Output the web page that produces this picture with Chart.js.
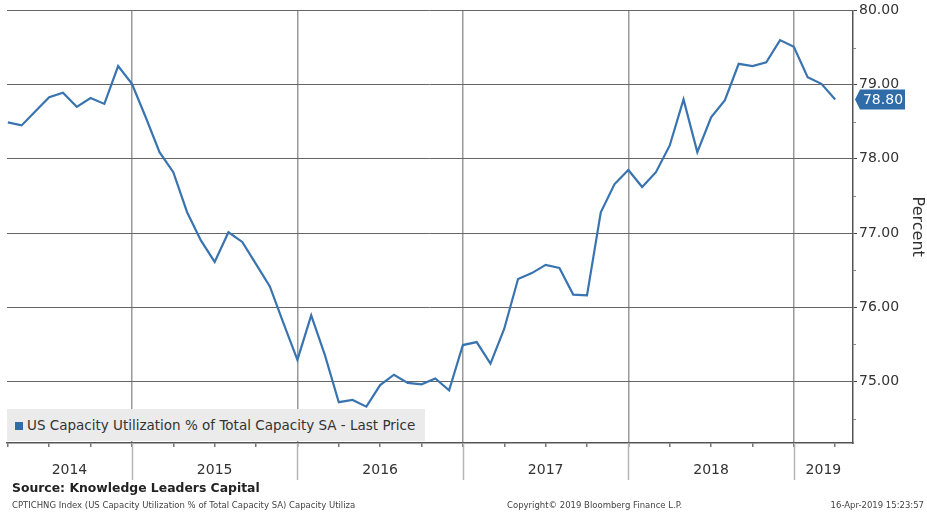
<!DOCTYPE html>
<html lang="en">
<head>
    <meta charset="UTF-8">
    <title>US Capacity Utilization</title>
    <script src="https://cdnjs.cloudflare.com/ajax/libs/Chart.js/4.4.1/chart.umd.min.js"></script>
    <style>
        body {
            margin: 0;
            background: #fff;
            font-family: 'DejaVu Sans', sans-serif;
        }
        .wrap {
            position: relative;
            width: 927px;
            height: 515px;
            overflow: hidden;
        }
        .legend {
            position: absolute;
            left: 7px;
            top: 409px;
            width: 418px;
            height: 32px;
            background: #ebebeb;
            color: #333;
            font-size: 13.5px;
            line-height: 32px;
            white-space: nowrap;
        }
        .legend i {
            display: inline-block;
            width: 8px;
            height: 8px;
            background: #2f6ca8;
            margin: 0 4px 0 8px;
        }
        .source {
            position: absolute;
            left: 12px;
            top: 480px;
            font-weight: bold;
            font-size: 12.4px;
            color: #222;
        }
        .small {
            position: absolute;
            top: 500px;
            font-size: 8.5px;
            color: #444;
            white-space: nowrap;
        }
    </style>
</head>
<body>
    <div class="wrap">
        <canvas id="chart" width="927" height="515"></canvas>
        <div class="legend"><i></i>US Capacity Utilization % of Total Capacity SA - Last Price</div>
        <div class="source">Source: Knowledge Leaders Capital</div>
        <div class="small" style="left:12px">CPTICHNG Index (US Capacity Utilization % of Total Capacity SA) Capacity Utiliza</div>
        <div class="small" style="left:507px">Copyright© 2019 Bloomberg Finance L.P.</div>
        <div class="small" style="right:3px">16-Apr-2019 15:23:57</div>
    </div>

    <script>
        // months counted from Jan 2014; a value for month m sits at the end of that month (m + 1)
        const firstMonth = 2; // Mar 2014
        const years = ['2014', '2015', '2016', '2017', '2018', '2019'];
        const yTicks = [75, 76, 77, 78, 79, 80];

        // monthly capacity utilization, Mar 2014 .. Mar 2019
        const capacityUtil = [
            78.49, 78.45, 78.64, 78.83, 78.89, 78.70, 78.82, 78.74, 79.25, 79.01,                // 2014
            78.56, 78.09, 77.82, 77.28, 76.90, 76.61, 77.01, 76.88, 76.58, 76.28, 75.78, 75.29,  // 2015
            75.89, 75.35, 74.72, 74.75, 74.66, 74.95, 75.09, 74.98, 74.96, 75.04, 74.88, 75.49,  // 2016
            75.53, 75.24, 75.71, 76.38, 76.46, 76.57, 76.53, 76.17, 76.16, 77.28, 77.66, 77.85,  // 2017
            77.62, 77.82, 78.18, 78.80, 78.09, 78.56, 78.79, 79.28, 79.25, 79.30, 79.60, 79.51,  // 2018
            79.10, 79.01, 78.80                                                                  // 2019
        ];

        const points = capacityUtil.map((v, i) => ({ x: firstMonth + i + 1, y: v }));
        const lastValue = capacityUtil[capacityUtil.length - 1];

        const lineColor = '#3a74b0';

        // year labels, year separators below the axis, minor y ticks, last price tag
        const decor = {
            id: 'decor',
            afterDraw(chart) {
                const ctx = chart.ctx;
                const xs = chart.scales.x;
                const ys = chart.scales.y;
                const area = chart.chartArea;

                ctx.save();
                // separators under the axis
                ctx.strokeStyle = '#b5b5b5';
                ctx.lineWidth = 1.5;
                for (let i = 1; i < years.length; i++) {
                    const px = Math.round(xs.getPixelForValue(i * 12)) + 0.5;
                    ctx.beginPath();
                    ctx.moveTo(px, area.bottom);
                    ctx.lineTo(px, area.bottom + 37);
                    ctx.stroke();
                }
                // year labels
                ctx.fillStyle = '#333';
                ctx.font = '14px "DejaVu Sans"';
                ctx.textAlign = 'center';
                ctx.textBaseline = 'middle';
                years.forEach((y, i) => {
                    const a = Math.max(xs.getPixelForValue(i * 12), area.left);
                    const b = Math.min(xs.getPixelForValue((i + 1) * 12), area.right);
                    ctx.fillText(y, (a + b) / 2, area.bottom + 27);
                });
                // minor ticks at half points
                ctx.strokeStyle = '#888';
                ctx.lineWidth = 1;
                for (let v = 74.5; v < 80; v += 1) {
                    const py = Math.round(ys.getPixelForValue(v)) + 0.5;
                    ctx.beginPath();
                    ctx.moveTo(area.right, py);
                    ctx.lineTo(area.right + 3, py);
                    ctx.stroke();
                }
                // last price tag
                const py = ys.getPixelForValue(lastValue);
                const x0 = area.right + 2;
                ctx.fillStyle = '#2f6ca8';
                ctx.beginPath();
                ctx.moveTo(x0, py);
                ctx.lineTo(x0 + 5, py - 10);
                ctx.lineTo(x0 + 50, py - 10);
                ctx.lineTo(x0 + 50, py + 10);
                ctx.lineTo(x0 + 5, py + 10);
                ctx.closePath();
                ctx.fill();
                ctx.fillStyle = '#fff';
                ctx.font = '14px "DejaVu Sans"';
                ctx.textAlign = 'center';
                ctx.fillText(lastValue.toFixed(2), x0 + 28, py + 1);
                ctx.restore();
            }
        };

        new Chart(document.getElementById('chart'), {
            type: 'line',
            data: {
                datasets: [{
                    label: 'US Capacity Utilization % of Total Capacity SA - Last Price',
                    data: points,
                    borderColor: lineColor,
                    borderWidth: 2.2,
                    pointRadius: 0,
                    tension: 0
                }]
            },
            options: {
                responsive: false,
                animation: false,
                layout: { padding: { left: 7, top: 10, right: 0, bottom: 0 } },
                plugins: {
                    legend: { display: false },
                    tooltip: { enabled: false }
                },
                scales: {
                    x: {
                        type: 'linear',
                        min: 2.94,
                        max: 64.29,
                        afterBuildTicks: s => {
                            const t = [];
                            for (let m = 3; m <= 63; m += 3) t.push({ value: m });
                            s.ticks = t;
                        },
                        afterFit: s => { s.height = 72; },
                        ticks: { display: false },
                        grid: {
                            color: c => (c.tick && c.tick.value % 12 === 0) ? '#9a9a9a' : 'transparent',
                            tickColor: '#777',
                            tickLength: 4,
                            lineWidth: 1.5
                        },
                        border: { color: '#555', width: 1.5 }
                    },
                    y: {
                        position: 'right',
                        min: 74.17,
                        max: 80,
                        afterBuildTicks: s => { s.ticks = yTicks.map(v => ({ value: v })); },
                        afterFit: s => { s.width = 74; },
                        ticks: {
                            callback: v => v.toFixed(2),
                            color: '#333',
                            font: { family: 'DejaVu Sans', size: 14 },
                            padding: 2
                        },
                        grid: {
                            color: '#666',
                            tickColor: '#444',
                            tickLength: 4,
                            lineWidth: 1
                        },
                        border: { color: '#555', width: 1.5 },
                        title: {
                            display: true,
                            text: 'Percent',
                            color: '#333',
                            font: { family: 'DejaVu Sans', size: 16 },
                            padding: { top: 0, bottom: 2 }
                        }
                    }
                }
            },
            plugins: [decor]
        });
    </script>
</body>
</html>
